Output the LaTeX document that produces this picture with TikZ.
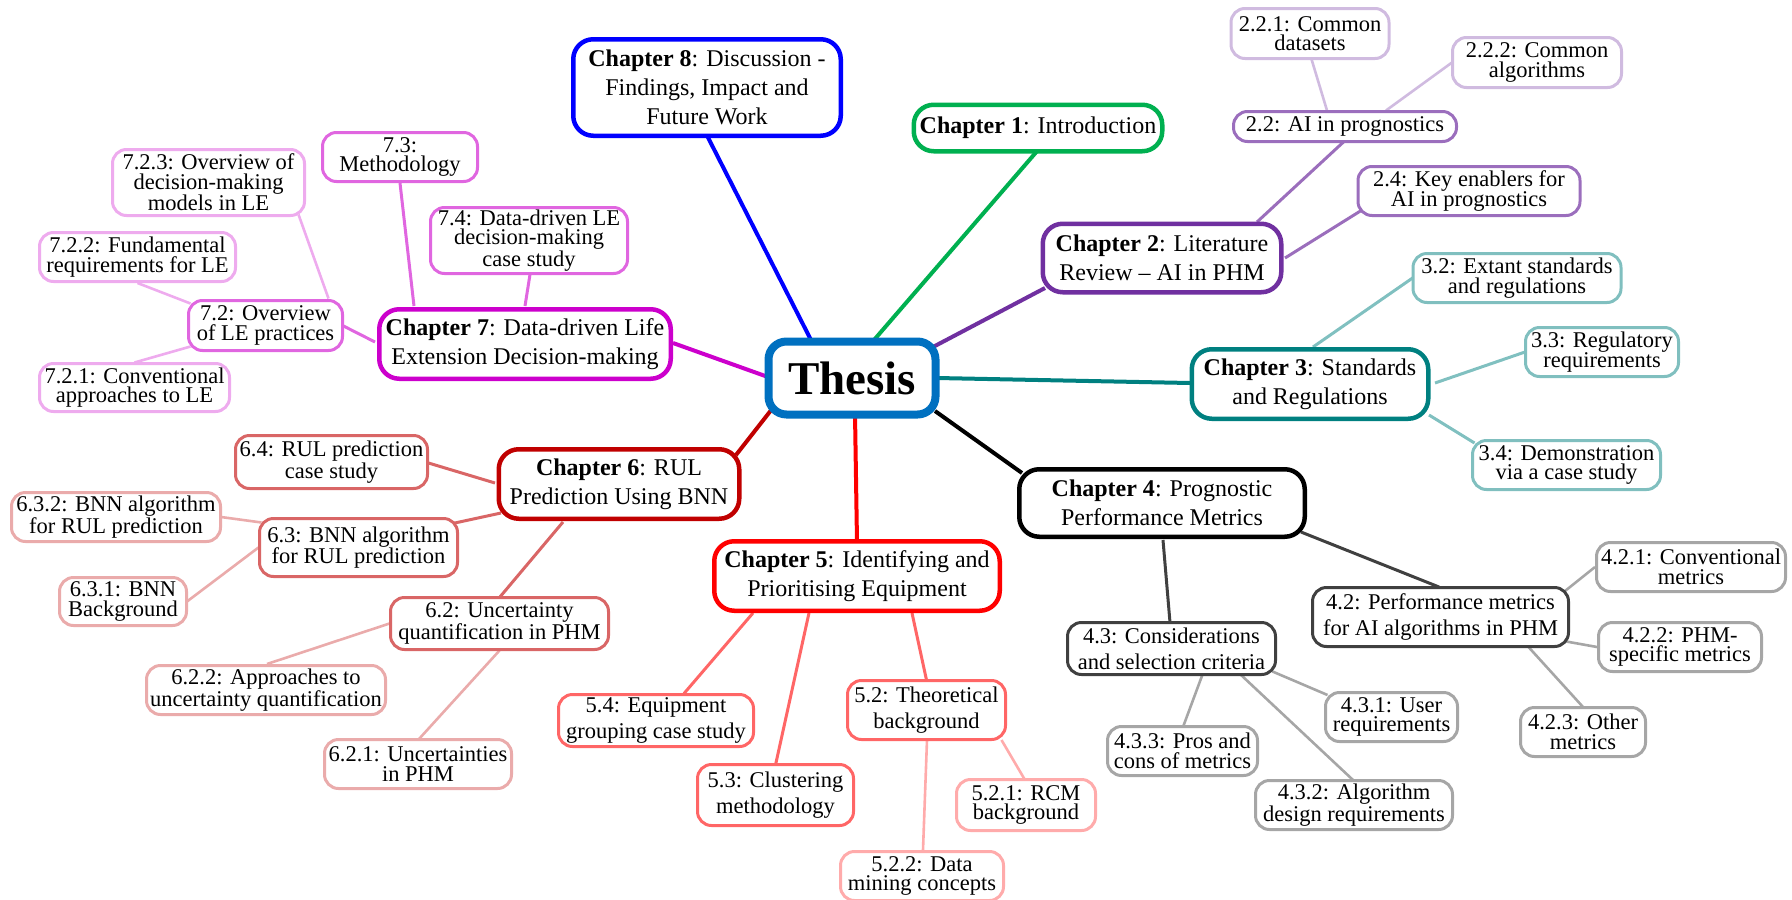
\documentclass[tikz,border=0pt]{standalone}
\usepackage{fontspec}
\setmainfont{Liberation Serif}
\usetikzlibrary{backgrounds}

% chapter colours
\definecolor{cth}{HTML}{0070C0}
\definecolor{ca}{HTML}{00B050}
\definecolor{cb}{HTML}{7030A0}
\definecolor{cc}{HTML}{008080}
\definecolor{cd}{HTML}{000000}
\definecolor{ce}{HTML}{FF0000}
\definecolor{cf}{HTML}{C00000}
\definecolor{cg}{HTML}{CC00CC}
\definecolor{ch}{HTML}{0000FF}
% section and subsection shades
\colorlet{sb}{cb!70!white}   \colorlet{ssb}{cb!33!white}
\colorlet{sc}{cc!50!white}
\colorlet{sd}{cd!75!white}   \colorlet{ssd}{cd!35!white}
\colorlet{se}{ce!60!white}   \colorlet{sse}{ce!33!white}
\colorlet{sf}{cf!60!white}   \colorlet{ssf}{cf!33!white}
\colorlet{sg}{cg!60!white}   \colorlet{ssg}{cg!33!white}

\newcommand\link[5]{\draw[#1] ([shift={(#3)}]#2.center) -- ([shift={(#5)}]#4.center);}

\begin{document}
\begin{tikzpicture}[x=1pt,y=-1pt,
  box/.style={draw, fill=white, align=center, inner sep=0pt},
  sz/.style 2 args={minimum width=#1pt, minimum height=#2pt},
  rootbox/.style={box, draw=cth, line width=8pt, rounded corners=18pt,
    font=\fontsize{47}{50}\selectfont\bfseries},
  chapbox/.style={box, line width=4.5pt, rounded corners=20pt,
    font=\fontsize{24}{29}\selectfont},
  secbox/.style={box, line width=3pt, rounded corners=14pt,
    font=\fontsize{22.5}{19.5}\selectfont},
  secwide/.style={secbox, font=\fontsize{22.5}{26}\selectfont},
  secmid/.style={secbox, font=\fontsize{22.5}{21.5}\selectfont},
  conn0/.style={line width=4pt},
  conn1/.style={line width=3pt},
  conn2/.style={line width=2.6pt},
]
\useasboundingbox (0,0) rectangle (1792,900);

% root
\node[rootbox, sz={167}{73}] (th) at (852,378) {Thesis};

% chapters
\node[chapbox, draw=ch, sz={267.5}{96.5}] (c8) at (707,87.5)
  {\textbf{Chapter 8}: Discussion -\\Findings, Impact and\\Future Work};
\node[chapbox, draw=ca, sz={248.5}{46.5}] (c1) at (1038,128)
  {\textbf{Chapter 1}: Introduction};
\node[chapbox, draw=cb, sz={238.5}{68.5}] (c2) at (1162,258)
  {\textbf{Chapter 2}: Literature\\Review – AI in PHM};
\node[chapbox, draw=cc, sz={236.5}{69.5}] (c3) at (1310,384)
  {\textbf{Chapter 3}: Standards\\and Regulations};
\node[chapbox, draw=cd, sz={285.5}{67.5}] (c4) at (1162,503)
  {\textbf{Chapter 4}: Prognostic\\Performance Metrics};
\node[chapbox, draw=ce, sz={285.5}{69.5}] (c5) at (857,576)
  {\textbf{Chapter 5}: Identifying and\\Prioritising Equipment};
\node[chapbox, draw=cf, sz={240.5}{69.5}] (c6) at (619,484)
  {\textbf{Chapter 6}: RUL\\Prediction Using BNN};
\node[chapbox, draw=cg, sz={291.5}{69.5}] (c7) at (525,344)
  {\textbf{Chapter 7}: Data-driven Life\\Extension Decision-making};

% chapter 2
\node[secbox, draw=sb, sz={223}{30}] (s22) at (1345,126.5) {2.2: AI in prognostics};
\node[secbox, draw=sb, sz={222}{49}] (s24) at (1469,191) {2.4: Key enablers for\\AI in prognostics};
\node[secbox, draw=ssb, sz={158}{50}] (s221) at (1310,33.5) {2.2.1: Common\\datasets};
\node[secbox, draw=ssb, sz={169}{50}] (s222) at (1537,62.5) {2.2.2: Common\\algorithms};

% chapter 3
\node[secbox, draw=sc, sz={208}{49}] (s32) at (1517,278) {3.2: Extant standards\\and regulations};
\node[secbox, draw=sc, sz={153}{49}] (s33) at (1602,352) {3.3: Regulatory\\requirements};
\node[secbox, draw=sc, sz={188}{49}] (s34) at (1566.5,465) {3.4: Demonstration\\via a case study};

% chapter 4
\node[secwide, draw=sd, sz={256}{59}] (s42) at (1440.5,617) {4.2: Performance metrics\\for AI algorithms in PHM};
\node[secwide, draw=sd, sz={208}{52}] (s43) at (1171.5,648.5) {4.3: Considerations\\and selection criteria};
\node[secbox, draw=ssd, sz={189}{49}] (s421) at (1691,567) {4.2.1: Conventional\\metrics};
\node[secbox, draw=ssd, sz={163}{49}] (s422) at (1680,647) {4.2.2: PHM-\\specific metrics};
\node[secbox, draw=ssd, sz={125}{49}] (s423) at (1583,732) {4.2.3: Other\\metrics};
\node[secbox, draw=ssd, sz={132}{49}] (s431) at (1391.5,717) {4.3.1: User\\requirements};
\node[secbox, draw=ssd, sz={197}{49}] (s432) at (1354,805) {4.3.2: Algorithm\\design requirements};
\node[secbox, draw=ssd, sz={150}{49}] (s433) at (1182.5,751) {4.3.3: Pros and\\cons of metrics};

% chapter 5
\node[secwide, draw=se, sz={158}{59}] (s52) at (926.5,710) {5.2: Theoretical\\background};
\node[secwide, draw=se, sz={156}{61}] (s53) at (775.5,795) {5.3: Clustering\\methodology};
\node[secwide, draw=se, sz={195}{52}] (s54) at (656,720.5) {5.4: Equipment\\grouping case study};
\node[secbox, draw=sse, sz={139}{51}] (s521) at (1026,805) {5.2.1: RCM\\background};
\node[secbox, draw=sse, sz={163}{49}] (s522) at (922,876) {5.2.2: Data\\mining concepts};

% chapter 6
\node[secbox, draw=sf, sz={218}{52}] (s62) at (499.5,623.5) {6.2: Uncertainty\\quantification in PHM};
\node[secmid, draw=sf, sz={198}{58}] (s63) at (358.5,547.5) {6.3: BNN algorithm\\for RUL prediction};
\node[secbox, draw=sf, sz={192}{53}] (s64) at (331.5,462) {6.4: RUL prediction\\case study};
\node[secbox, draw=ssf, sz={187}{49}] (s621) at (418,764) {6.2.1: Uncertainties\\in PHM};
\node[secbox, draw=ssf, sz={239}{49}] (s622) at (266,690) {6.2.2: Approaches to\\uncertainty quantification};
\node[secbox, draw=ssf, sz={127}{48}] (s631) at (123,601.5) {6.3.1: BNN\\Background};
\node[secbox, draw=ssf, sz={209}{49}] (s632) at (116,517) {6.3.2: BNN algorithm\\for RUL prediction};

% chapter 7
\node[secbox, draw=sg, sz={154}{50}] (s72) at (265.5,325.5) {7.2: Overview\\of LE practices};
\node[secbox, draw=sg, sz={155}{49}] (s73) at (400,157) {7.3:\\Methodology};
\node[secbox, draw=sg, sz={197}{66}] (s74) at (529,240.5) {7.4: Data-driven LE\\decision-making\\case study};
\node[secbox, draw=ssg, sz={190}{48}] (s721) at (134.5,387.5) {7.2.1: Conventional\\approaches to LE};
\node[secbox, draw=ssg, sz={196}{49}] (s722) at (137.5,257) {7.2.2: Fundamental\\requirements for LE};
\node[secbox, draw=ssg, sz={192}{66}] (s723) at (208.5,182.5) {7.2.3: Overview of\\decision-making\\models in LE};

\begin{scope}[on background layer]
  % root to chapters
  \link{conn0, ch}{th}{-41,-38}{c8}{0,48}
  \link{conn0, ca}{th}{22,-38}{c1}{0,22}
  \link{conn0, cb}{th}{81,-31}{c2}{-117,30}
  \link{conn0, cc}{th}{85,0}{c3}{-120,-1}
  \link{conn0, cd}{th}{83,33}{c4}{-140,-30}
  \link{conn0, ce}{th}{3,36}{c5}{0,-34}
  \link{conn0, cf}{th}{-80,31}{c6}{117,-29}
  \link{conn0, cg}{th}{-84,-1}{c7}{148,-1}
  % chapter 2
  \link{conn1, sb}{c2}{95,-36}{s22}{-1,15}
  \link{conn1, sb}{c2}{123,0}{s24}{-107,19}
  \link{conn2, ssb}{s22}{-18,-16}{s221}{1,24}
  \link{conn2, ssb}{s22}{41,-16}{s222}{-85,0}
  % chapter 3
  \link{conn1, sc}{c3}{3,-37}{s32}{-103,-1}
  \link{conn1, sc}{c3}{125,-1}{s33}{-77,0}
  \link{conn1, sc}{c3}{119,31}{s34}{-92,-22}
  % chapter 4
  \link{conn1, sd}{c4}{139,29}{s42}{-1.5,-30}
  \link{conn1, sd}{c4}{1,37}{s43}{-1.5,-26}
  \link{conn2, ssd}{s42}{122,-24}{s421}{-96,0}
  \link{conn2, ssd}{s42}{123,24}{s422}{-83,0}
  \link{conn2, ssd}{s42}{88,30}{s423}{0,-25}
  \link{conn2, ssd}{s43}{101,23}{s431}{-64,-22}
  \link{conn2, ssd}{s43}{69,26}{s432}{-1,-25}
  \link{conn2, ssd}{s43}{31,26}{s433}{0.5,-24}
  % chapter 5
  \link{conn1, se}{c5}{55,37}{s52}{0,-30}
  \link{conn1, se}{c5}{-48,37}{s53}{0,-30}
  \link{conn1, se}{c5}{-104,37}{s54}{28,-27}
  \link{conn2, sse}{s52}{75,30}{s521}{-1,-25}
  \link{conn2, sse}{s52}{0.5,30}{s522}{1,-26}
  % chapter 6
  \link{conn1, sf}{c6}{-124,-1}{s64}{97,1}
  \link{conn1, sf}{c6}{-118,29}{s63}{94,-24}
  \link{conn1, sf}{c6}{-56,38}{s62}{0,-26}
  \link{conn2, ssf}{s63}{-97,-25}{s632}{105,0}
  \link{conn2, ssf}{s63}{-100,0}{s631}{64,0}
  \link{conn2, ssf}{s62}{-110,0}{s622}{1,-26}
  \link{conn2, ssf}{s62}{0,27}{s621}{1,-25}
  % chapter 7
  \link{conn1, sg}{c7}{-150,-2}{s72}{77,0}
  \link{conn1, sg}{c7}{-111,-38}{s73}{0,26}
  \link{conn1, sg}{c7}{0,-38}{s74}{1,34}
  \link{conn2, ssg}{s72}{63,-27}{s723}{90,32}
  \link{conn2, ssg}{s72}{-75,-22}{s722}{0,26}
  \link{conn2, ssg}{s72}{-75,21}{s721}{0,-25}
\end{scope}
\end{tikzpicture}
\end{document}
